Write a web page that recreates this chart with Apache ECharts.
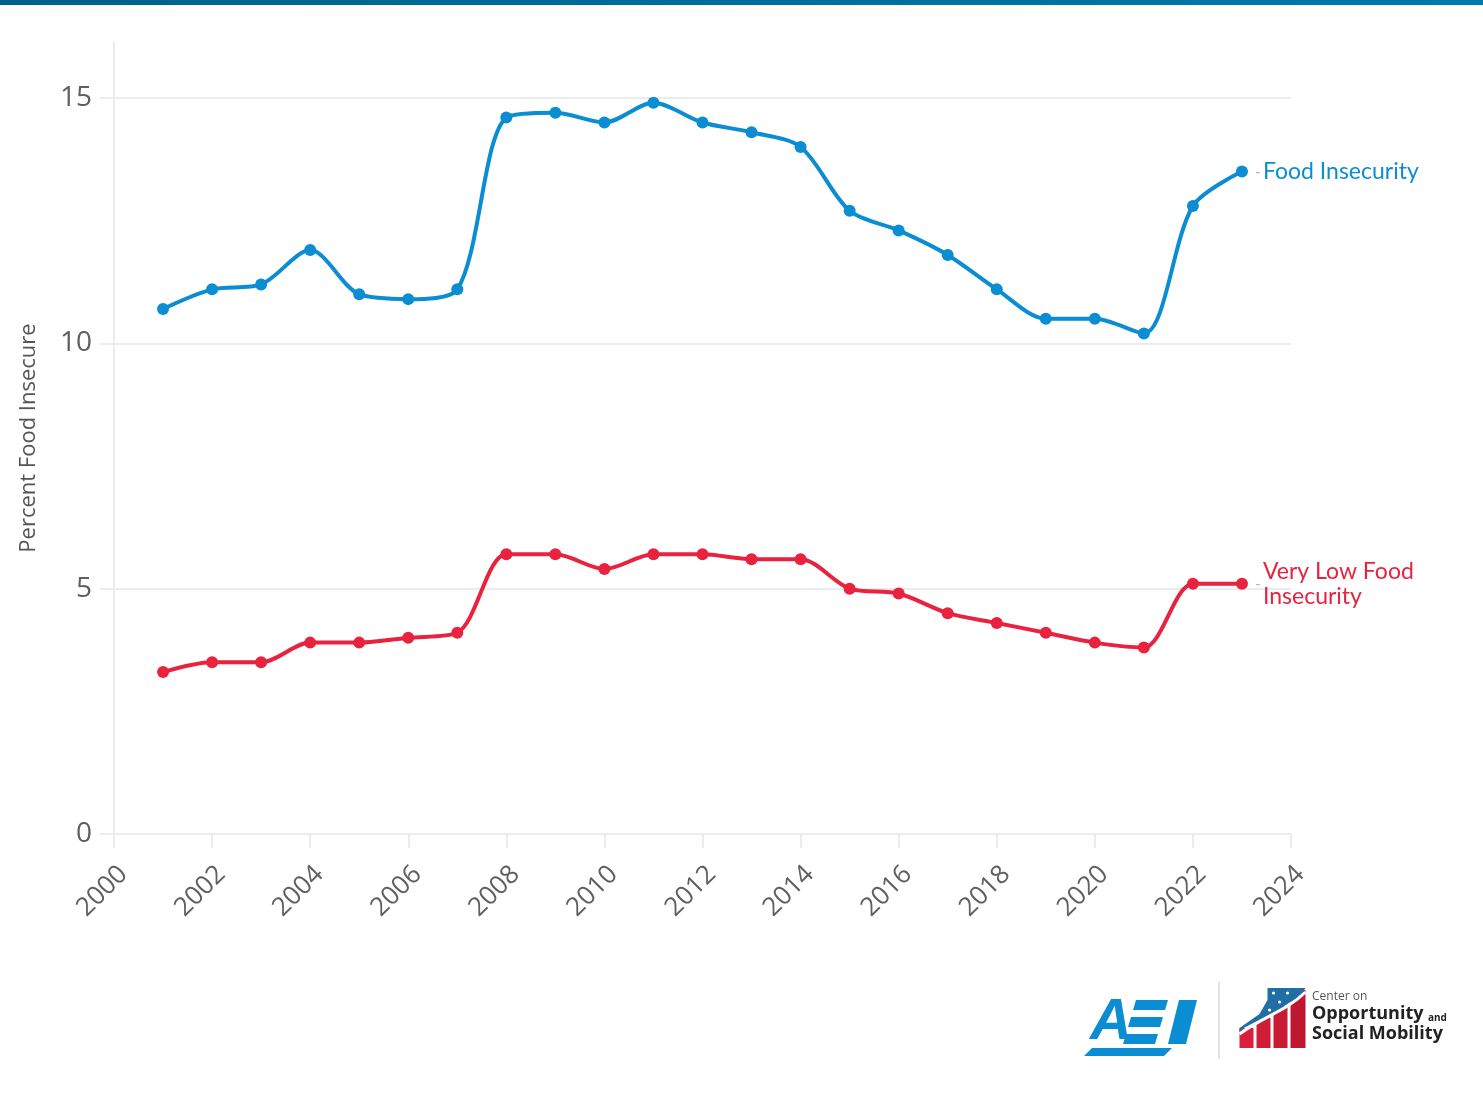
<!DOCTYPE html>
<html>
<head>
<meta charset="utf-8">
<script src="https://cdn.jsdelivr.net/npm/echarts@6/dist/echarts.min.js"></script>
<style>
  html, body { margin: 0; padding: 0; background: #fff; }
  #chart { width: 1483px; height: 1109px; }
</style>
</head>
<body>
<div id="chart"></div>
<script>
// Share of U.S. households that are food insecure, by year
var years = [2001, 2002, 2003, 2004, 2005, 2006, 2007, 2008, 2009, 2010, 2011, 2012,
             2013, 2014, 2015, 2016, 2017, 2018, 2019, 2020, 2021, 2022, 2023];
var foodInsecurity = [10.7, 11.1, 11.2, 11.9, 11.0, 10.9, 11.1, 14.6, 14.7, 14.5, 14.9, 14.5,
                      14.3, 14.0, 12.7, 12.3, 11.8, 11.1, 10.5, 10.5, 10.2, 12.8, 13.5];
var veryLowFoodInsecurity = [3.3, 3.5, 3.5, 3.9, 3.9, 4.0, 4.1, 5.7, 5.7, 5.4, 5.7, 5.7,
                             5.6, 5.6, 5.0, 4.9, 4.5, 4.3, 4.1, 3.9, 3.8, 5.1, 5.1];
var yTicks = [0, 5, 10, 15];
var seriesNames = ['Food Insecurity', 'Very Low Food\nInsecurity'];

var BLUE = '#0a8dd3';
var RED = '#e8223f';
var GRID = '#ececec';

function toPoints(values) {
  return years.map(function (y, i) {
    var item = { value: [y, values[i]] };
    if (i === years.length - 1) {
      item.label = {
        show: true, position: 'right', distance: 7,
        formatter: '-', color: '#b9b9b9', fontSize: 16, fontFamily: 'Lato'
      };
    }
    return item;
  });
}

function lineSeries(name, values, color) {
  return {
    name: name,
    type: 'line',
    data: toPoints(values),
    smooth: 0.3,
    symbol: 'circle',
    symbolSize: 12,
    lineStyle: { color: color, width: 4 },
    itemStyle: { color: color },
    emphasis: { disabled: true },
    endLabel: {
      show: true,
      distance: 21,
      formatter: name,
      color: color,
      fontFamily: 'Lato',
      fontSize: 23,
      lineHeight: 25
    }
  };
}

var chart = echarts.init(document.getElementById('chart'), null, { renderer: 'canvas' });

chart.setOption({
  animation: false,
  backgroundColor: '#fff',
  grid: { left: 114, right: 192, top: 42, bottom: 275, containLabel: false },
  xAxis: {
    type: 'value',
    min: 2000, max: 2024, interval: 2,
    axisLine: { show: true, lineStyle: { color: GRID, width: 2 } },
    axisTick: { show: true, length: 14, lineStyle: { color: GRID, width: 2 } },
    splitLine: { show: false },
    axisLabel: {
      rotate: 45, margin: 27, color: '#5f5f5f',
      verticalAlign: 'top',
      fontFamily: 'Open Sans', fontSize: 26,
      formatter: function (v) { return String(v); }
    }
  },
  yAxis: {
    type: 'value',
    min: 0, max: 16.14, interval: 5,
    name: 'Percent Food Insecure',
    nameLocation: 'middle',
    nameGap: 74,
    nameTextStyle: { color: '#555', fontFamily: 'Open Sans', fontSize: 22 },
    axisLine: { show: true, lineStyle: { color: GRID, width: 2 } },
    axisTick: { show: true, length: 14, customValues: yTicks, lineStyle: { color: GRID, width: 2 } },
    splitLine: { show: true, lineStyle: { color: [GRID, GRID, GRID, GRID, 'rgba(0,0,0,0)'], width: 2 } },
    axisLabel: {
      customValues: yTicks, margin: 22, color: '#5f5f5f',
      fontFamily: 'Open Sans', fontSize: 28
    }
  },
  series: [
    lineSeries(seriesNames[0], foodInsecurity, BLUE),
    lineSeries(seriesNames[1], veryLowFoodInsecurity, RED)
  ],
  graphic: [
    // header band
    {
      type: 'rect', left: 0, top: 0, z: 10,
      shape: { width: 1483, height: 5 },
      style: {
        fill: new echarts.graphic.LinearGradient(0, 0, 1, 0, [
          { offset: 0, color: '#00628a' },
          { offset: 1, color: '#0079ad' }
        ])
      }
    },
    // AEI wordmark
    {
      type: 'group', left: 1084, top: 994,
      children: [
        { type: 'polygon', shape: { points: [[0, 60], [8, 52], [88, 52], [80, 60]] }, style: { fill: BLUE } },
        { type: 'text', x: 6, y: -2, style: { text: 'A', font: 'italic 900 58px "Liberation Sans"', fill: BLUE } },
        { type: 'polygon', shape: { points: [[52, 4], [84, 4], [81, 14], [49, 14]] }, style: { fill: BLUE } },
        { type: 'polygon', shape: { points: [[47, 21], [79, 21], [76, 31], [44, 31]] }, style: { fill: BLUE } },
        { type: 'polygon', shape: { points: [[42, 38], [74, 38], [71, 48], [39, 48]] }, style: { fill: BLUE } },
        { type: 'polygon', shape: { points: [[95, 4], [113, 4], [102, 48], [84, 48]] }, style: { fill: BLUE } }
      ]
    },
    // divider
    {
      type: 'line', shape: { x1: 1219, y1: 982, x2: 1219, y2: 1059 },
      style: { stroke: '#e3e3e3', lineWidth: 2 }
    },
    // Center on Opportunity and Social Mobility mark
    {
      type: 'group', left: 1237, top: 988,
      children: [
        { type: 'rect', shape: { x: 0, y: 40, width: 14, height: 20 }, style: { fill: '#d91f3a' } },
        { type: 'rect', shape: { x: 17, y: 30, width: 14, height: 30 }, style: { fill: '#d01d36' } },
        { type: 'rect', shape: { x: 34, y: 18, width: 14, height: 42 }, style: { fill: '#c81a33' } },
        { type: 'rect', shape: { x: 51, y: 2, width: 15, height: 58 }, style: { fill: '#bf1730' } },
        { type: 'polygon', shape: { points: [[28, 0], [66, 0], [60, 8], [36, 24], [4, 40], [0, 44], [0, 40], [20, 26], [28, 12]] }, style: { fill: '#1f6ea6' } },
        { type: 'bezierCurve', shape: { x1: 0, y1: 46, x2: 66, y2: 4, cpx1: 24, cpy1: 28, cpx2: 46, cpy2: 24 }, style: { stroke: '#ffffff', lineWidth: 3, fill: null } },
        { type: 'circle', shape: { cx: 34, cy: 5, r: 1.6 }, style: { fill: '#fff' } },
        { type: 'circle', shape: { cx: 48, cy: 5, r: 1.6 }, style: { fill: '#fff' } },
        { type: 'circle', shape: { cx: 40, cy: 14, r: 1.6 }, style: { fill: '#fff' } },
        { type: 'circle', shape: { cx: 30, cy: 22, r: 1.6 }, style: { fill: '#fff' } }
      ]
    },
    { type: 'text', left: 1312, top: 991, style: { text: 'Center on', font: '12px "Open Sans"', fill: '#555' } },
    { type: 'text', left: 1312, top: 1005, style: { text: 'Opportunity', font: 'bold 18px "Open Sans"', fill: '#222' } },
    { type: 'text', left: 1428, top: 1013, style: { text: 'and', font: 'bold 10px "Open Sans"', fill: '#222' } },
    { type: 'text', left: 1312, top: 1025, style: { text: 'Social Mobility', font: 'bold 18px "Open Sans"', fill: '#222' } }
  ]
});
</script>
</body>
</html>
